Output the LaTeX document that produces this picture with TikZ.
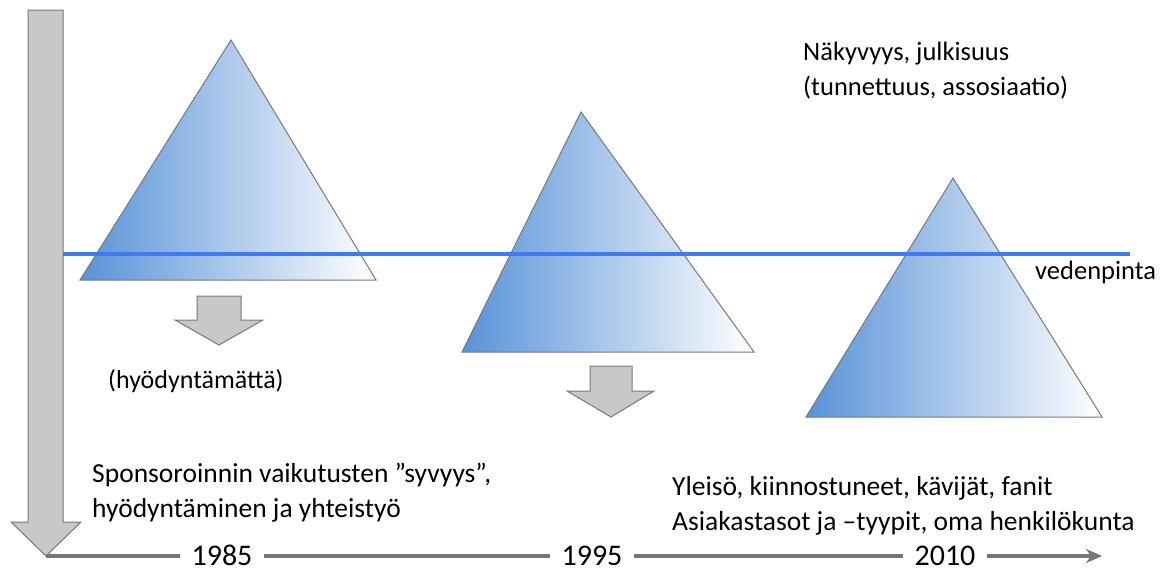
\documentclass[tikz,border=0pt]{standalone}
\usepackage{fontspec}
\setmainfont{Carlito}
\usetikzlibrary{arrows.meta}
\definecolor{triblue}{RGB}{88,146,216}
\definecolor{waterblue}{RGB}{62,122,240}
\definecolor{arrowfill}{RGB}{200,200,200}
\definecolor{arrowedge}{RGB}{120,120,120}
\definecolor{lineGray}{RGB}{118,118,118}
\tikzset{
  tri/.style={left color=triblue, right color=white, draw=arrowedge, line width=1pt},
  fatarrow/.style={fill=arrowfill, draw=arrowedge, line width=1pt, line join=miter},
  txt/.style={font=\fontsize{26.5}{35}\selectfont, anchor=base west, inner sep=0pt, align=left},
  bigtxt/.style={txt, font=\fontsize{27.5}{35}\selectfont},
  year/.style={font=\fontsize{30}{32}\selectfont, fill=white, inner xsep=12pt, inner ysep=0pt, text depth=0pt, anchor=base},
}
\begin{document}
\begin{tikzpicture}[x=1pt,y=-1pt]
\useasboundingbox (0,0) rectangle (1175,573);
% big vertical arrow
\path[fatarrow] (28,10) -- (63,10) -- (63,522) -- (81,522) -- (46,556) -- (11,522) -- (28,522) -- cycle;
\coordinate (origin) at (46,556);
\coordinate (timeend) at (1102,556);
% timeline
\draw[lineGray, line width=4pt, -{Stealth[length=16pt,width=14pt,inset=5pt]}] (origin) -- (timeend);
\node[year] (y1985) at (222,565) {1985};
\node[year] (y1995) at (592,565) {1995};
\node[year] (y2010) at (945,565) {2010};
% triangles
\shade[tri] (231,40) -- (376,280) -- (80,280) -- cycle;
\shade[tri] (581,112) -- (754,352) -- (462,352) -- cycle;
\shade[tri] (953,178) -- (1102,417) -- (806,417) -- cycle;
% water line
\coordinate (wl) at (63,254);
\coordinate (wr) at (1130,254);
\draw[waterblue, line width=3.5pt] (wl) -- (wr);
% small arrows
\path[fatarrow] (197,296) -- (241,296) -- (241,320) -- (263,320) -- (219,345) -- (175,320) -- (197,320) -- cycle;
\path[fatarrow] (590,366) -- (632,366) -- (632,391) -- (654,391) -- (611,417) -- (567,391) -- (590,391) -- cycle;
% texts
\node[txt] (nak) at (803,95) {Näkyvyys, julkisuus\\(tunnettuus, assosiaatio)};
\node[txt] (ved) at (1035,279) {vedenpinta};
\node[txt, font=\fontsize{26}{32}\selectfont] (hyo) at (108,388) {(hyödyntämättä)};
\node[bigtxt] (spo) at (92,517) {Sponsoroinnin vaikutusten ”syvyys”,\\hyödyntäminen ja yhteistyö};
\node[bigtxt] (yle) at (672,530) {Yleisö, kiinnostuneet, kävijät, fanit\\Asiakastasot ja –tyypit, oma henkilökunta};
\end{tikzpicture}
\end{document}
